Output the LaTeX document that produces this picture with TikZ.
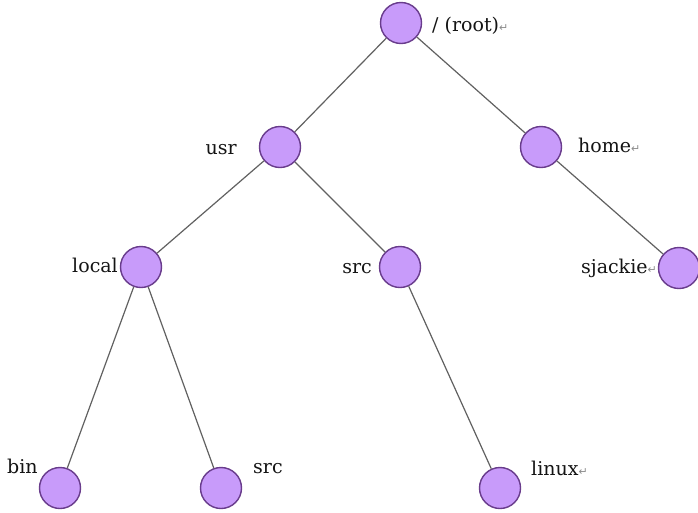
\documentclass[tikz,border=0pt]{standalone}
\usepackage{fontspec}
\setmainfont{DejaVu Serif}
\newfontfamily\symfont{DejaVu Sans}
\begin{document}
\begin{tikzpicture}[x=1pt,y=-1pt,
  dirnode/.style={circle,draw={rgb,255:red,105;green,60;blue,140},line width=1.4pt,fill={rgb,255:red,200;green,155;blue,250},minimum size=41pt,inner sep=0pt},
  link/.style={draw=black!62,line width=1.2pt},
  lbl/.style={font=\fontsize{19}{21}\selectfont,inner sep=0pt,text=black!92}]
\newcommand\retmark{{\symfont\fontsize{11}{11}\selectfont\textcolor{black!45}{↵}}}
\useasboundingbox[fill=white] (0,0) rectangle (698,512);
% directory nodes
\node[dirnode] (root) at (401,23) {};
\node[dirnode] (usr) at (280,147) {};
\node[dirnode] (home) at (541,147) {};
\node[dirnode] (local) at (141,267) {};
\node[dirnode] (src) at (400,267) {};
\node[dirnode] (sjackie) at (679,268) {};
\node[dirnode] (bin) at (60,488) {};
\node[dirnode] (src2) at (221,488) {};
\node[dirnode] (linux) at (500,488) {};
% tree edges
\draw[link] (root) -- (usr);
\draw[link] (root) -- (home);
\draw[link] (usr) -- (local);
\draw[link] (usr) -- (src);
\draw[link] (home) -- (sjackie);
\draw[link] (local) -- (bin);
\draw[link] (local) -- (src2);
\draw[link] (src) -- (linux);
% labels
\node[lbl,anchor=base west] (troot) at (432,31) {/ (root)\retmark};
\node[lbl,anchor=base east] (tusr) at (237,154) {usr};
\node[lbl,anchor=base west] (thome) at (578,152) {home\retmark};
\node[lbl,anchor=base east] (tlocal) at (118,272) {local};
\node[lbl,anchor=base east] (tsrc) at (372,273) {src};
\node[lbl,anchor=base east] (tsjackie) at (657,273) {sjackie\retmark};
\node[lbl,anchor=base west] (tbin) at (7,473) {bin};
\node[lbl,anchor=base west] (tsrc2) at (253,473) {src};
\node[lbl,anchor=base west] (tlinux) at (531,475) {linux\retmark};
\end{tikzpicture}
\end{document}
